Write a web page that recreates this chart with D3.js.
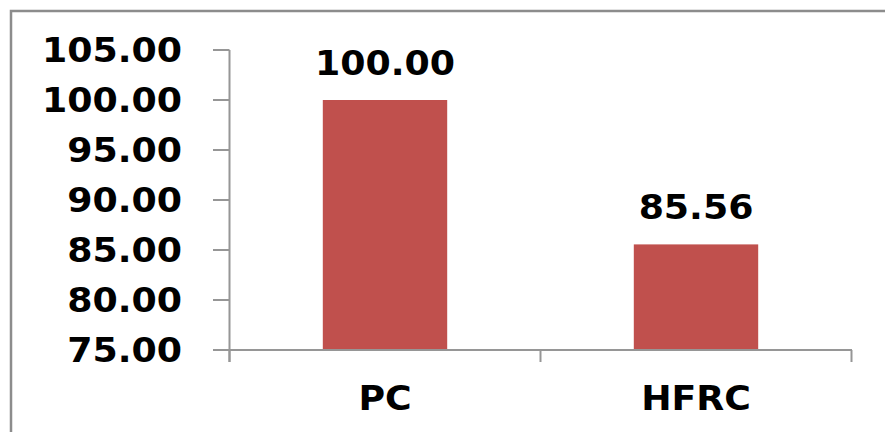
<html>
<meta charset="utf-8">
<title>PC vs HFRC</title>
<style>
  body { margin: 0; background: #fff; }
</style>
<div id="chart"></div>
<script src="https://d3js.org/d3.v7.min.js"></script>
<script>
var categories = ["PC", "HFRC"];
var values = [100.00, 85.56];
var yTicks = [75, 80, 85, 90, 95, 100, 105];

var width = 885, height = 432;
var svg = d3.select("#chart").append("svg")
  .attr("width", width)
  .attr("height", height);

// chart frame (runs off right/bottom like the original)
svg.append("rect")
  .attr("x", 11).attr("y", 11)
  .attr("width", 900).attr("height", 450)
  .attr("fill", "none")
  .attr("stroke", "#8c8c8c")
  .attr("stroke-width", 2.5);

var x = d3.scaleBand().domain(categories).range([229.5, 851.5]).paddingInner(0.6).paddingOuter(0.3);
var y = d3.scaleLinear().domain([75, 105]).range([350, 50]);

var font = "DejaVu Sans, Verdana, sans-serif";
var axisColor = "#969696";

// y axis
var yAxis = svg.append("g");
yAxis.append("line")
  .attr("x1", 229.5).attr("x2", 229.5)
  .attr("y1", y(105)).attr("y2", 362)
  .attr("stroke", axisColor).attr("stroke-width", 2);
yTicks.forEach(function (t) {
  yAxis.append("line")
    .attr("x1", 213).attr("x2", 229.5)
    .attr("y1", y(t)).attr("y2", y(t))
    .attr("stroke", axisColor).attr("stroke-width", 2);
  yAxis.append("text")
    .attr("transform", "translate(182," + (y(t) + 12) + ") scale(1.1,1)")
    .attr("text-anchor", "end")
    .style("font-family", font)
    .style("font-weight", "bold")
    .style("font-size", "33px")
    .text(d3.format(".2f")(t));
});

// bars
svg.selectAll("rect.bar")
  .data(values)
  .enter().append("rect")
  .attr("class", "bar")
  .attr("x", function (d, i) { return x(categories[i]); })
  .attr("width", x.bandwidth())
  .attr("y", function (d) { return y(d); })
  .attr("height", function (d) { return y(75) - y(d); })
  .attr("fill", "#C0504D");

// x axis
svg.append("line")
  .attr("x1", 229.5).attr("x2", 852)
  .attr("y1", 350).attr("y2", 350)
  .attr("stroke", axisColor).attr("stroke-width", 2);
var step = (851.5 - 229.5) / categories.length;
d3.range(categories.length + 1).forEach(function (i) {
  var xx = 229.5 + i * step;
  svg.append("line")
    .attr("x1", xx).attr("x2", xx)
    .attr("y1", 350).attr("y2", 362)
    .attr("stroke", axisColor).attr("stroke-width", 2);
});

categories.forEach(function (c) {
  svg.append("text")
    .attr("transform", "translate(" + (x(c) + x.bandwidth() / 2) + ",410) scale(1.1,1)")
    .attr("text-anchor", "middle")
    .style("font-family", font)
    .style("font-weight", "bold")
    .style("font-size", "33px")
    .text(c);
});

// value labels
values.forEach(function (v, i) {
  svg.append("text")
    .attr("transform", "translate(" + (x(categories[i]) + x.bandwidth() / 2) + "," + (y(v) - 25) + ") scale(1.1,1)")
    .attr("text-anchor", "middle")
    .style("font-family", font)
    .style("font-weight", "bold")
    .style("font-size", "33px")
    .text(d3.format(".2f")(v));
});
</script>
</html>
